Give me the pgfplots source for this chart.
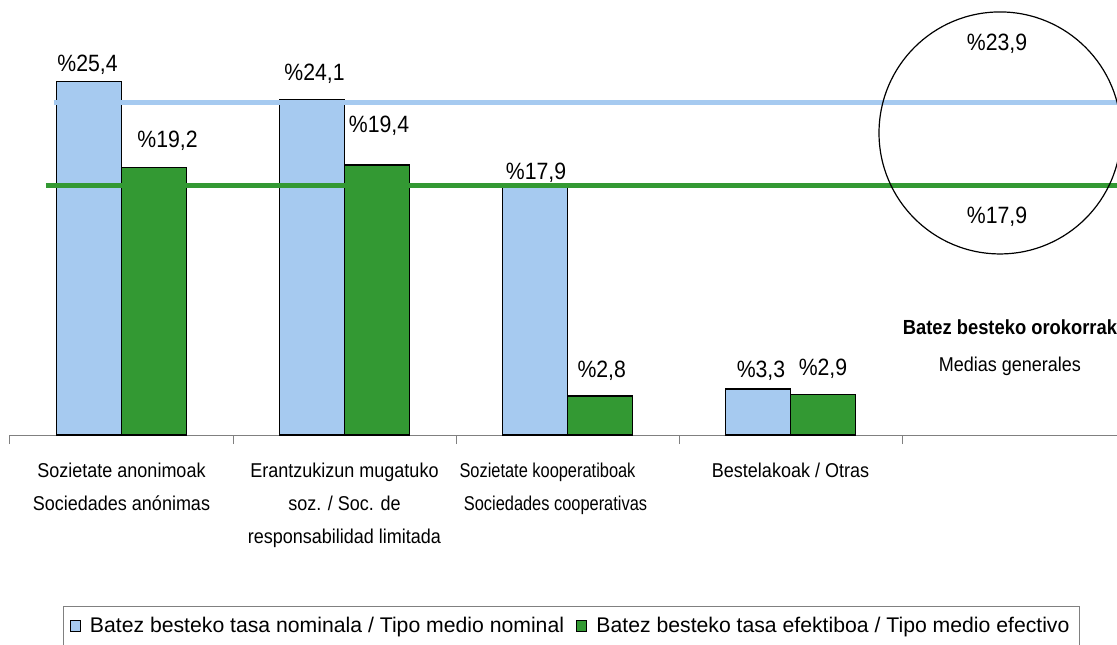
\documentclass[border=0pt]{standalone}
\usepackage{fontspec}
\setmainfont{Liberation Sans}
\newfontfamily\nar[FakeStretch=0.9]{Liberation Sans}
\newfontfamily\narr[FakeStretch=0.82]{Liberation Sans}
\usepackage{pgfplots}
\pgfplotsset{compat=1.18}
\definecolor{pblue}{RGB}{166,202,240}
\definecolor{pgreen}{RGB}{51,153,51}
\definecolor{axgray}{RGB}{128,128,128}
\newcommand{\lbl}{\nar\fontsize{11.8}{13}\selectfont}
\pgfplotsset{lgsq/.style={legend image code/.code={\draw[##1,draw=black,line width=0.5pt] (0pt,-2.6pt) rectangle (5.2pt,2.6pt);}}}
\begin{document}
\begin{tikzpicture}
\begin{axis}[
  at={(5pt,104.5pt)}, anchor=south west,
  scale only axis, width=557.5pt, height=208.8pt,
  xmin=-0.5, xmax=4.5, ymin=0, ymax=30,
  axis x line*=bottom, axis y line=none,
  x axis line style={axgray, line width=0.5pt},
  xtick={0,1,2,3},
  xticklabels={{Sozietate anonimoak\\Sociedades anónimas},
               {Erantzukizun mugatuko\\soz. / Soc. de\\responsabilidad limitada},
               {\narr Sozietate kooperatiboak\hspace*{20pt}\\\narr Sociedades cooperativas\hspace*{12pt}},
               {Bestelakoak / Otras}},
  major tick length=0pt,
  minor xtick={-0.5,0.5,1.5,2.5,3.5,4.5},
  minor tick length=4.5pt, tick align=outside,
  minor tick style={axgray, line width=0.5pt},
  xticklabel style={align=center, font=\nar\fontsize{10}{16.5}\selectfont, yshift=-10.5pt},
  clip=false,
  legend columns=2,
  legend style={at={(0.5036,-0.457)}, anchor=center, draw=axgray, line width=0.5pt,
    font=\fontsize{10.6}{12}\selectfont, inner xsep=3pt, inner ysep=3pt,
    /tikz/every odd column/.append style={column sep=2.5pt},
    /tikz/every even column/.append style={column sep=4pt}},
]
\addplot[ybar, bar width=0.29, bar shift=-0.145, fill=pblue, draw=black, line width=0.6pt, lgsq]
  coordinates {(0,25.4) (1,24.1) (2,17.9) (3,3.3)};
\addlegendentry{Batez besteko tasa nominala / Tipo medio nominal}
\addplot[ybar, bar width=0.29, bar shift=0.145, fill=pgreen, draw=black, line width=0.6pt, lgsq]
  coordinates {(0,19.2) (1,19.4) (2,2.8) (3,2.9)};
\addlegendentry{Batez besteko tasa efektiboa / Tipo medio efectivo}
\addplot[pblue, line width=2.4pt, forget plot] coordinates {(-0.303,23.9) (4.5,23.9)};
\addplot[pgreen, line width=2.4pt, forget plot] coordinates {(-0.339,17.9) (4.5,17.9)};
\tikzset{v/.style={font=\lbl, text height=0.716em, text depth=0pt, inner sep=0pt, anchor=center}}
\node[v] at (axis cs:-0.1525,26.65) {\%25,4};
\node[v] at (axis cs:0.2063,21.19) {\%19,2};
\node[v] at (axis cs:0.8655,26.0) {\%24,1};
\node[v] at (axis cs:1.1547,22.27) {\%19,4};
\node[v] at (axis cs:1.8587,18.89) {\%17,9};
\node[v] at (axis cs:2.1534,4.67) {\%2,8};
\node[v] at (axis cs:2.8677,4.62) {\%3,3};
\node[v] at (axis cs:3.1457,4.81) {\%2,9};
\draw[black, line width=0.6pt] (axis cs:3.9395,21.7) circle [radius=60.5pt];
\node[v] at (axis cs:3.926,28.16) {\%23,9};
\node[v] at (axis cs:3.926,15.73) {\%17,9};
\node[v, font=\nar\bfseries\fontsize{10.2}{12}\selectfont] at (axis cs:3.984,7.72) {Batez besteko orokorrak};
\node[v, font=\nar\fontsize{10}{12}\selectfont] at (axis cs:3.984,5.10) {Medias generales};
\end{axis}
\pgfresetboundingbox
\useasboundingbox (0,0) rectangle (558.5pt,322pt);
\end{tikzpicture}
\end{document}
